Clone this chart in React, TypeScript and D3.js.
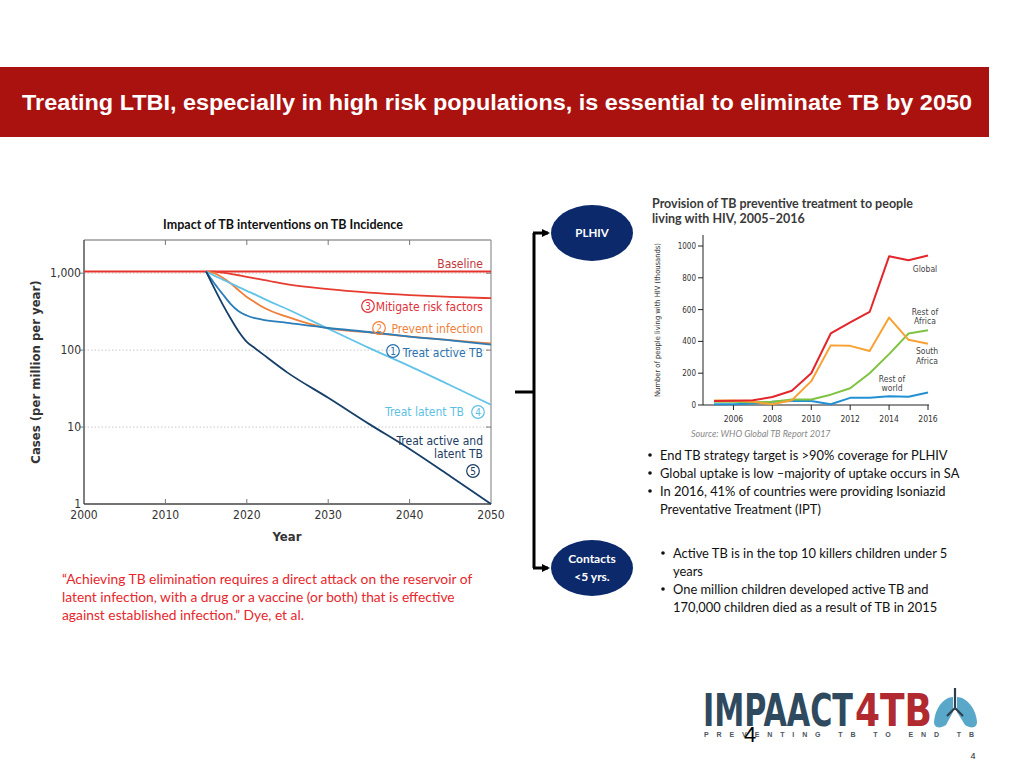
import React from "react";
import * as d3 from "d3";

// ---------- Left chart data: TB incidence (cases per million per year) ----------
const baselineYears = [2000, 2050];
const baselineValues = [1050, 1050];
const interventionYears = [2015, 2016, 2017, 2018, 2019, 2020, 2021, 2022, 2025, 2030, 2035, 2040, 2045, 2050];
const mitigateRisk = [1050, 1045, 1015, 980, 940, 895, 855, 820, 715, 620, 560, 520, 492, 473];
const preventInfection = [1050, 1000, 880, 740, 600, 490, 420, 360, 270, 192, 170, 150, 135, 122];
const treatActive = [1050, 740, 540, 400, 320, 282, 260, 248, 226, 194, 172, 150, 134, 118];
const treatLatent = [1050, 930, 830, 740, 660, 590, 530, 470, 340, 190, 107, 62, 35, 19.5];
const treatBoth = [1050, 640, 400, 260, 175, 128, 106, 88, 51, 24, 11, 5.2, 2.3, 1];
const leftXTicks = [2000, 2010, 2020, 2030, 2040, 2050];
const leftYTicks = [1, 10, 100, 1000];
const leftYTickLabels = ["1", "10", "100", "1,000"];

// ---------- Right chart data: IPT provision to PLHIV (thousands) ----------
const iptYears = [2005, 2006, 2007, 2008, 2009, 2010, 2011, 2012, 2013, 2014, 2015, 2016];
const iptGlobal = [25, 27, 30, 50, 90, 200, 450, 520, 585, 935, 910, 940];
const iptSouthAfrica = [28, 28, 20, 5, 30, 150, 375, 372, 340, 550, 410, 385];
const iptRestAfrica = [20, 20, 18, 20, 35, 35, 65, 105, 200, 320, 450, 470];
const iptRestWorld = [5, 5, 10, 20, 25, 25, 5, 45, 45, 55, 52, 78];
const rightXTicks = [2006, 2008, 2010, 2012, 2014, 2016];
const rightYTicks = [0, 200, 400, 600, 800, 1000];

const bullets1 = [
  "End TB strategy target is >90% coverage for PLHIV",
  "Global uptake is low \u2013majority of uptake occurs in SA",
  "In 2016, 41% of countries were providing Isoniazid",
];
const bullets2 = [
  ["Active TB is in the top 10 killers children under 5", "years"],
  ["One million children developed active TB and", "170,000 children died as a result of TB in 2015"],
];
const quoteLines = [
  "\u201CAchieving TB elimination requires a direct attack on the reservoir of",
  "latent infection, with a drug or a vaccine (or both) that is effective",
  "against established infection.\u201D Dye, et al.",
];

const CHART_FONT = "'Liberation Sans Narrow', 'DejaVu Sans Condensed', 'Liberation Sans', sans-serif";
const SLIDE_FONT = "Lato, 'Open Sans', sans-serif";

function CircNum({ x, y, n, color }: { x: number; y: number; n: string; color: string }) {
  return (
    <g>
      <circle cx={x} cy={y} r={6.3} fill="none" stroke={color} strokeWidth={1.2} />
      <text x={x} y={y + 3.6} textAnchor="middle" fontSize={10} fill={color} fontFamily={CHART_FONT}>
        {n}
      </text>
    </g>
  );
}

export default function App() {
  // left chart scales
  const lx = d3.scaleLinear().domain([2000, 2050]).range([84, 491]);
  const ly = d3.scaleLog().domain([1, 2700]).range([504, 240]);
  const lline = d3
    .line<[number, number]>()
    .x((d) => lx(d[0]))
    .y((d) => ly(d[1]))
    .curve(d3.curveMonotoneX);
  const zipL = (vals: number[]) => interventionYears.map((y, i) => [y, vals[i]] as [number, number]);

  // right chart scales
  const rx = d3.scaleLinear().domain([2005, 2016]).range([714, 928]);
  const ry = d3.scaleLinear().domain([0, 1000]).range([405, 246]);
  const rline = d3
    .line<[number, number]>()
    .x((d) => rx(d[0]))
    .y((d) => ry(d[1]));
  const zipR = (vals: number[]) => iptYears.map((y, i) => [y, vals[i]] as [number, number]);

  const leftSeries = [
    { v: mitigateRisk, c: "#e63b2e" },
    { v: preventInfection, c: "#ef7f3a" },
    { v: treatLatent, c: "#62c3e8" },
    { v: treatActive, c: "#2a7db9" },
    { v: treatBoth, c: "#153f68" },
  ];

  const rightSeries = [
    { v: iptRestWorld, c: "#2290d3" },
    { v: iptRestAfrica, c: "#80c342" },
    { v: iptSouthAfrica, c: "#f7a233" },
    { v: iptGlobal, c: "#e2262b" },
  ];

  return (
    <svg
      width={1024}
      height={768}
      style={{ position: "absolute", left: 0, top: 0, background: "#fff" }}
    >
      <rect x={0} y={0} width={1024} height={768} fill="#fff" />
      {/* Header band */}
      <rect x={0} y={67} width={989} height={70} fill="#a9120f" />
      <text
        x={22}
        y={110}
        fill="#fff"
        fontWeight="bold"
        fontSize={22}
        fontFamily="'Liberation Sans', Arial, sans-serif"
        textLength={950}
        lengthAdjust="spacingAndGlyphs"
      >
        Treating LTBI, especially in high risk populations, is essential to eliminate TB by 2050
      </text>

      {/* ---------- Left chart ---------- */}
      <text x={283} y={229} textAnchor="middle" fontSize={12.5} fontWeight="bold" fill="#111" fontFamily={SLIDE_FONT}>
        Impact of TB interventions on TB Incidence
      </text>
      {/* gridlines */}
      {[10, 100, 1000].map((t) => (
        <line key={"g" + t} x1={lx(2000)} x2={lx(2050)} y1={ly(t)} y2={ly(t)} stroke="#c8c8c8" strokeDasharray="1.5,2" />
      ))}
      {/* frame */}
      <line x1={84} x2={491} y1={240} y2={240} stroke="#9a9a9a" strokeWidth={1.3} />
      <line x1={491} x2={491} y1={240} y2={504} stroke="#9a9a9a" strokeWidth={1.3} />
      <line x1={84} x2={84} y1={240} y2={504} stroke="#555" strokeWidth={1.5} />
      <line x1={84} x2={491} y1={504} y2={504} stroke="#444" strokeWidth={1.5} />
      {leftXTicks.slice(1, -1).map((t) => (
        <g key={"xt" + t}>
          <line x1={lx(t)} x2={lx(t)} y1={240} y2={245} stroke="#777" />
          <line x1={lx(t)} x2={lx(t)} y1={504} y2={499} stroke="#777" />
        </g>
      ))}
      {leftYTicks.slice(1).map((t) => (
        <g key={"yt" + t}>
          <line x1={80} x2={84} y1={ly(t)} y2={ly(t)} stroke="#777" />
          <line x1={491} x2={486} y1={ly(t)} y2={ly(t)} stroke="#777" />
        </g>
      ))}
      {leftXTicks.map((t) => (
        <text key={"xl" + t} x={lx(t)} y={519} textAnchor="middle" fontSize={12} fill="#333" fontFamily={CHART_FONT}>
          {t}
        </text>
      ))}
      {leftYTicks.map((t, i) => (
        <text key={"yl" + t} x={81} y={ly(t) + 4} textAnchor="end" fontSize={12} fill="#333" fontFamily={CHART_FONT}>
          {leftYTickLabels[i]}
        </text>
      ))}
      <text x={287} y={541} textAnchor="middle" fontSize={13} fontWeight="bold" fill="#333" fontFamily={CHART_FONT}>
        Year
      </text>
      <text
        transform="translate(40,372) rotate(-90)"
        textAnchor="middle"
        fontSize={13}
        fontWeight="bold"
        fill="#333"
        fontFamily={CHART_FONT}
      >
        Cases (per million per year)
      </text>
      {/* lines */}
      <path
        d={lline(baselineYears.map((y, i) => [y, baselineValues[i]] as [number, number])) || ""}
        fill="none"
        stroke="#e5322d"
        strokeWidth={2}
      />
      {leftSeries.map((s, i) => (
        <path key={"ls" + i} d={lline(zipL(s.v)) || ""} fill="none" stroke={s.c} strokeWidth={1.8} />
      ))}
      {/* labels */}
      <text x={483} y={268} textAnchor="end" fontSize={12} fill="#c0383b" fontFamily={CHART_FONT}>
        Baseline
      </text>
      <CircNum x={368} y={306} n="3" color="#e0303a" />
      <text x={483} y={311} textAnchor="end" fontSize={12} fill="#e0303a" fontFamily={CHART_FONT}>
        Mitigate risk factors
      </text>
      <CircNum x={379} y={328} n="2" color="#ef7f3a" />
      <text x={483} y={333} textAnchor="end" fontSize={12} fill="#ef7f3a" fontFamily={CHART_FONT}>
        Prevent infection
      </text>
      <CircNum x={393} y={351} n="1" color="#2a72ad" />
      <text x={483} y={357} textAnchor="end" fontSize={12} fill="#2a72ad" fontFamily={CHART_FONT}>
        Treat active TB
      </text>
      <text x={464} y={416} textAnchor="end" fontSize={12} fill="#5ebfe5" fontFamily={CHART_FONT}>
        Treat latent TB
      </text>
      <CircNum x={478} y={412} n="4" color="#5ebfe5" />
      <text x={483} y={445} textAnchor="end" fontSize={12} fill="#1c3d63" fontFamily={CHART_FONT}>
        Treat active and
      </text>
      <text x={483} y={458} textAnchor="end" fontSize={12} fill="#1c3d63" fontFamily={CHART_FONT}>
        latent TB
      </text>
      <CircNum x={473} y={471} n="5" color="#1c3d63" />

      {/* quote */}
      {quoteLines.map((l, i) => (
        <text key={"q" + i} x={62} y={583.5 + i * 18} fontSize={13.8} fill="#e8262b" fontFamily={SLIDE_FONT}>
          {l}
        </text>
      ))}

      {/* ---------- Bracket & ellipses ---------- */}
      <defs>
        <marker id="arr" markerWidth={8} markerHeight={8} refX={6} refY={4} orient="auto" markerUnits="userSpaceOnUse">
          <path d="M0,0 L8,4 L0,8 Z" fill="#000" />
        </marker>
      </defs>
      <line x1={534} x2={534} y1={233} y2={568} stroke="#000" strokeWidth={3} />
      <line x1={515} x2={534} y1={392} y2={392} stroke="#000" strokeWidth={3} />
      <line x1={533} x2={548} y1={233} y2={233} stroke="#000" strokeWidth={3} markerEnd="url(#arr)" />
      <line x1={533} x2={548} y1={568} y2={568} stroke="#000" strokeWidth={3} markerEnd="url(#arr)" />
      <ellipse cx={592} cy={233} rx={41} ry={28} fill="#0c2a6b" />
      <text x={592} y={237} textAnchor="middle" fontSize={11.5} fontWeight="bold" fill="#fff" fontFamily={SLIDE_FONT}>
        PLHIV
      </text>
      <ellipse cx={592} cy={568} rx={41} ry={28} fill="#0c2a6b" />
      <text x={592} y={563} textAnchor="middle" fontSize={12} fontWeight="bold" fill="#fff" fontFamily={SLIDE_FONT}>
        Contacts
      </text>
      <text x={592} y={581} textAnchor="middle" fontSize={12} fontWeight="bold" fill="#fff" fontFamily={SLIDE_FONT}>
        &lt;5 yrs.
      </text>

      {/* ---------- Right chart ---------- */}
      <text x={652} y={208} fontSize={12.5} fontWeight="bold" fill="#3a3a3a" fontFamily={SLIDE_FONT}>
        Provision of TB preventive treatment to people
      </text>
      <text x={652} y={223} fontSize={12.5} fontWeight="bold" fill="#3a3a3a" fontFamily={SLIDE_FONT}>
        living with HIV, 2005–2016
      </text>
      <line x1={703} x2={703} y1={235} y2={405} stroke="#222" strokeWidth={1} />
      <line x1={703} x2={929} y1={405} y2={405} stroke="#222" strokeWidth={1} />
      {rightYTicks.map((t) => (
        <g key={"ryt" + t}>
          <line x1={698} x2={703} y1={ry(t)} y2={ry(t)} stroke="#222" />
          <text x={696} y={ry(t) + 3} textAnchor="end" fontSize={8} fill="#333" fontFamily={CHART_FONT}>
            {t}
          </text>
        </g>
      ))}
      {rightXTicks.map((t) => (
        <g key={"rxt" + t}>
          <line x1={rx(t)} x2={rx(t)} y1={405} y2={410} stroke="#222" />
          <text x={rx(t)} y={422} textAnchor="middle" fontSize={8.5} fill="#333" fontFamily={CHART_FONT}>
            {t}
          </text>
        </g>
      ))}
      <text
        transform="translate(660,320) rotate(-90)"
        textAnchor="middle"
        fontSize={7.5}
        fill="#333"
        fontFamily={CHART_FONT}
      >
        Number of people living with HIV (thousands)
      </text>
      {rightSeries.map((s, i) => (
        <path key={"rs" + i} d={rline(zipR(s.v)) || ""} fill="none" stroke={s.c} strokeWidth={2} strokeLinejoin="round" />
      ))}
      <text x={925} y={272} textAnchor="middle" fontSize={8.5} fill="#444" fontFamily={CHART_FONT}>Global</text>
      <text x={925} y={315} textAnchor="middle" fontSize={8.5} fill="#444" fontFamily={CHART_FONT}>Rest of</text>
      <text x={925} y={324} textAnchor="middle" fontSize={8.5} fill="#444" fontFamily={CHART_FONT}>Africa</text>
      <text x={927} y={354} textAnchor="middle" fontSize={8.5} fill="#444" fontFamily={CHART_FONT}>South</text>
      <text x={927} y={364} textAnchor="middle" fontSize={8.5} fill="#444" fontFamily={CHART_FONT}>Africa</text>
      <text x={892} y={382} textAnchor="middle" fontSize={8.5} fill="#444" fontFamily={CHART_FONT}>Rest of</text>
      <text x={892} y={391} textAnchor="middle" fontSize={8.5} fill="#444" fontFamily={CHART_FONT}>world</text>
      <text x={691} y={437} fontSize={9} fontStyle="italic" fill="#888" fontFamily={SLIDE_FONT}>
        Source: WHO Global TB Report 2017
      </text>

      {/* bullets block 1 */}
      {bullets1.map((b, i) => (
        <g key={"b1" + i}>
          <circle cx={650} cy={455 + i * 18} r={1.8} fill="#111" />
          <text x={660} y={459.5 + i * 18} fontSize={12.9} fill="#111" fontFamily={SLIDE_FONT}>
            {b}
          </text>
        </g>
      ))}
      <text x={660} y={513.5} fontSize={12.9} fill="#111" fontFamily={SLIDE_FONT}>
        Preventative Treatment (IPT)
      </text>
      {/* bullets block 2 */}
      {bullets2.map((b, i) => (
        <g key={"b2" + i}>
          <circle cx={663} cy={553 + i * 36} r={1.8} fill="#111" />
          {b.map((l, j) => (
            <text key={j} x={673} y={557.5 + i * 36 + j * 18} fontSize={12.9} fill="#111" fontFamily={SLIDE_FONT}>
              {l}
            </text>
          ))}
        </g>
      ))}

      {/* logo */}
      <text
        x={703}
        y={726}
        fontSize={44}
        fontWeight="bold"
        fill="#2f4a5e"
        fontFamily="'Liberation Sans Narrow', 'DejaVu Sans Condensed', sans-serif"
        textLength={150}
        lengthAdjust="spacingAndGlyphs"
      >
        IMPAACT
      </text>
      <text
        x={855}
        y={726}
        fontSize={44}
        fontWeight="bold"
        fill="#b02a30"
        fontFamily="'Liberation Sans Narrow', 'DejaVu Sans Condensed', sans-serif"
        textLength={77}
        lengthAdjust="spacingAndGlyphs"
      >
        4TB
      </text>
      <g fill="#5aa8c9">
        <path d="M953,697 C944,697 935,708 934,722 C934,728 940,729 946,725 L953,712 Z" />
        <path d="M957,697 C966,697 976,708 977,722 C977,728 971,729 965,725 L957,712 Z" />
      </g>
      <path d="M955,688 L955,708 M955,708 L947,716 M955,708 L963,716" stroke="#2f3f4e" strokeWidth={2.2} fill="none" />
      <text
        x={704}
        y={737}
        fontSize={7}
        fontWeight="bold"
        fill="#4a5560"
        fontFamily="'Liberation Sans', sans-serif"
        textLength={270}
        lengthAdjust="spacing"
      >
        PREVENTING TB TO END TB
      </text>
      <text x={750} y={742} textAnchor="middle" fontSize={22} fill="#000" fontFamily="'Liberation Sans', sans-serif">
        4
      </text>
      <text x={973} y={759} textAnchor="middle" fontSize={9} fill="#222" fontFamily="'Liberation Sans', sans-serif">
        4
      </text>
    </svg>
  );
}
